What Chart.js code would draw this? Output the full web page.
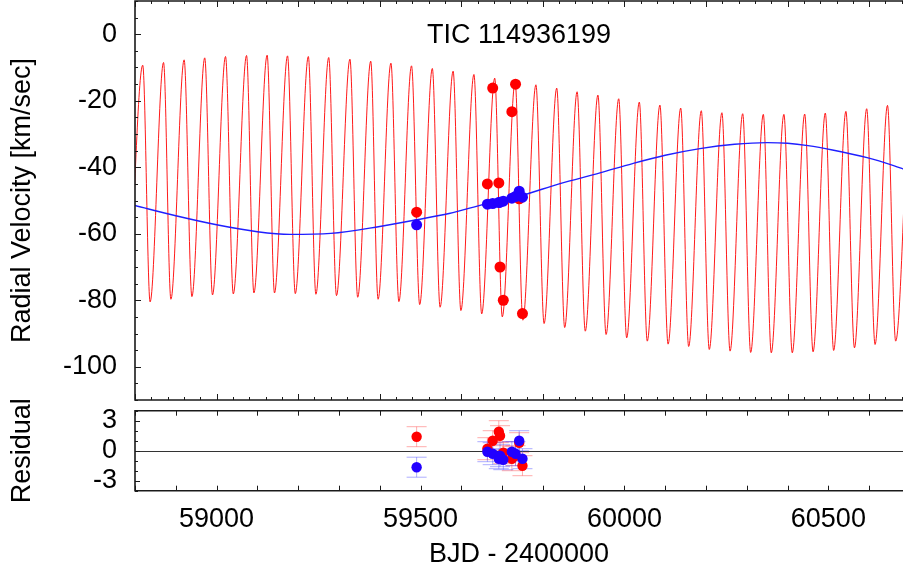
<!DOCTYPE html>
<html><head><meta charset="utf-8">
<script src="https://cdn.jsdelivr.net/npm/chart.js@4.4.1/dist/chart.umd.min.js"></script>
<style>
html,body{margin:0;padding:0;background:#fff;overflow:hidden;width:903px;height:573px}
canvas{position:absolute;left:0}
#top{top:0}
#bot{top:380px}
</style></head><body>
<canvas id="top" width="903" height="405"></canvas>
<canvas id="bot" width="903" height="193"></canvas>
<script>
// ---- data ----
const chartTitle = 'TIC 114936199';
// red (inner) model curve: maxima and minima
const peakDays = [58819, 58870, 58920.5, 58971, 59022, 59073.5, 59124, 59174, 59225, 59275, 59327, 59378, 59427.5, 59478, 59529, 59580, 59631, 59682, 59732, 59783, 59834, 59884, 59935, 59986, 60036.5, 60087, 60138, 60188.5, 60239, 60290, 60340.5, 60391, 60442, 60492.5, 60543, 60594, 60645, 60696];
const peakRV = [-9.3, -8.5, -7.7, -7.1, -6.7, -6.4, -6.3, -6.5, -6.7, -7.0, -7.5, -8.1, -8.7, -9.5, -10.3, -11.1, -12.1, -13.2, -14.3, -15.2, -16.2, -17.3, -18.3, -19.4, -20.4, -21.3, -22.2, -23.0, -23.6, -23.9, -24.1, -24.1, -24.0, -23.7, -23.2, -22.4, -21.4, -20.3];
const troughDays = [58786, 58837, 58888, 58939.5, 58990, 59041, 59091.5, 59142, 59193, 59243.5, 59294, 59346, 59396, 59447, 59498, 59548, 59599, 59650, 59700.5, 59751, 59803, 59853.5, 59904, 59955, 60005.5, 60056, 60107, 60157.5, 60208, 60259, 60309.5, 60360, 60411.5, 60462.5, 60513, 60564, 60614.5, 60665];
const troughRV = [-81, -80.5, -79.7, -78.9, -78.4, -78.1, -77.8, -77.8, -78.0, -78.2, -78.6, -79.1, -79.7, -80.4, -81.3, -82.1, -83.1, -84.1, -85.0, -86.0, -87.0, -88.2, -89.3, -90.3, -91.3, -92.3, -93.2, -93.9, -94.8, -95.3, -95.7, -95.8, -95.8, -95.5, -95.1, -94.3, -93.3, -92.3];
// blue (outer) model curve
const blueModelDays = [58800, 58900, 59000, 59100, 59180, 59280, 59400, 59490, 59570, 59660, 59745, 59840, 59940, 60020, 60100, 60185, 60270, 60350, 60400, 60450, 60510, 60595, 60660, 60690];
const blueModelRV = [-51.5, -54.6, -57.3, -59.4, -60.2, -59.9, -57.8, -55.8, -53.9, -51.0, -48.6, -45.0, -41.7, -38.9, -36.4, -34.4, -33.1, -32.6, -32.8, -33.5, -34.8, -37.1, -39.5, -40.8];
// observations
const obsDays = [59490.5, 59664, 59677, 59692, 59695, 59703, 59724, 59733, 59742, 59750];
const redRV = [-53.5, -45.0, -16.2, -44.7, -70.0, -80.0, -23.3, -15.0, -49.5, -84.0];
const blueRV = [-57.3, -51.1, -50.9, -50.6, -50.5, -50.2, -49.3, -48.8, -47.2, -49.0];
const redResid = [1.4, 0.2, 1.0, 1.9, 1.5, -0.2, -0.8, -0.5, 0.8, -1.5];
const blueResid = [-1.65, -0.1, -0.3, -0.8, -0.5, -0.9, -0.1, -0.3, 1.0, -0.8];
const redErr = [1.0, 1.1, 1.0, 1.1, 1.0, 1.1, 1.2, 1.0, 1.0, 1.0];
const blueErr = [1.0, 1.0, 1.1, 1.0, 1.1, 1.0, 1.0, 1.2, 1.0, 1.0];
// axes
const rvTicks = [-100, -80, -60, -40, -20, 0];
const residTicks = [-3, 0, 3];
const bjdTicks = [59000, 59500, 60000, 60500];
const xRange = [58800, 60683];
const rvRange = [-110, 10];
const residRange = [-4, 4];

// ---- styling ----
const FONT = '"Liberation Sans", Arial, Helvetica, sans-serif';
const FS = 27;
const RED = '#ff0000';
const BLUE = '#2200ff';
const FRAME = '#1a1a1a';

function framePlugin(o) {
  return {
    id: 'frame' + o.name,
    afterDraw(chart) {
      const {ctx, chartArea: a, scales: {x, y}} = chart;
      ctx.save();
      ctx.strokeStyle = FRAME;
      ctx.lineWidth = 1;
      ctx.beginPath();
      const isMult = (v, s) => Math.abs(v / s - Math.round(v / s)) < 1e-6;
      for (let v = Math.ceil(x.min / o.xMinor) * o.xMinor; v <= x.max; v += o.xMinor) {
        const px = Math.round(x.getPixelForValue(v)) + 0.5;
        const L = isMult(v, o.xMajor) ? o.majLen : o.minLen;
        ctx.moveTo(px, a.top); ctx.lineTo(px, a.top + L);
        ctx.moveTo(px, a.bottom); ctx.lineTo(px, a.bottom - L);
      }
      for (let v = Math.ceil(y.min / o.yMinor) * o.yMinor; v <= y.max; v += o.yMinor) {
        const py = Math.round(y.getPixelForValue(v)) + 0.5;
        const L = isMult(v, o.yMajor) ? o.majLen : o.minLen;
        ctx.moveTo(a.left, py); ctx.lineTo(a.left + L, py);
      }
      ctx.stroke();
      ctx.lineWidth = 1.6;
      ctx.beginPath();
      ctx.moveTo(a.right + 2, a.top); ctx.lineTo(a.left, a.top);
      ctx.lineTo(a.left, a.bottom); ctx.lineTo(a.right + 2, a.bottom);
      ctx.stroke();
      if (o.yTitle) {
        ctx.translate(23, (a.top + a.bottom) / 2);
        ctx.rotate(-Math.PI / 2);
        ctx.font = FS + 'px ' + FONT;
        ctx.fillStyle = '#000';
        ctx.textAlign = 'center';
        ctx.textBaseline = 'middle';
        ctx.fillText(o.yTitle, 0, 0);
      }
      ctx.restore();
    }
  };
}

const titlePlugin = {
  id: 'tictitle',
  afterDraw(chart) {
    const {ctx, chartArea: a} = chart;
    ctx.save();
    ctx.font = FS + 'px ' + FONT;
    ctx.fillStyle = '#000';
    ctx.textAlign = 'center';
    ctx.textBaseline = 'alphabetic';
    ctx.fillText(chartTitle, (a.left + a.right) / 2, 43);
    ctx.restore();
  }
};

const zeroErrPlugin = {
  id: 'zeroerr',
  beforeDatasetsDraw(chart) {
    const {ctx, chartArea: a, scales: {x, y}} = chart;
    ctx.save();
    ctx.strokeStyle = '#333';
    ctx.lineWidth = 1.2;
    const y0 = Math.round(y.getPixelForValue(0)) + 0.5;
    ctx.beginPath(); ctx.moveTo(a.left, y0); ctx.lineTo(a.right, y0); ctx.stroke();
    const sets = [[redResid, redErr, 'rgba(255,70,70,0.45)'], [blueResid, blueErr, 'rgba(70,70,255,0.45)']];
    ctx.lineWidth = 1;
    sets.forEach(([vals, errs, col]) => {
      ctx.strokeStyle = col;
      ctx.beginPath();
      obsDays.forEach((d, i) => {
        const px = x.getPixelForValue(d);
        const yt = y.getPixelForValue(vals[i] + errs[i]);
        const yb = y.getPixelForValue(vals[i] - errs[i]);
        ctx.moveTo(px, yt); ctx.lineTo(px, yb);
        ctx.moveTo(px - 10, yt); ctx.lineTo(px + 10, yt);
        ctx.moveTo(px - 10, yb); ctx.lineTo(px + 10, yb);
      });
      ctx.stroke();
    });
    ctx.restore();
  }
};

const pts = (xs, ys) => xs.map((d, i) => ({x: d, y: ys[i]}));
const redModel = pts(peakDays, peakRV).concat(pts(troughDays, troughRV)).sort((p, q) => p.x - q.x);
const blueModel = pts(blueModelDays, blueModelRV);
const font = {family: FONT, size: FS};

const yAxisBase = (range, ticks, title) => ({
  type: 'linear', min: range[0], max: range[1],
  afterBuildTicks: s => { s.ticks = ticks.map(v => ({value: v})); },
  afterFit: s => { s.width = 135; s.paddingTop = 0; s.paddingBottom = 0; },
  grid: {display: false, drawTicks: false}, border: {display: false},
  ticks: {font, color: '#000', padding: 18, callback: v => String(v)},
  title: {display: false, text: title}
});

new Chart(document.getElementById('top'), {
  type: 'scatter',
  data: {datasets: [
    {data: pts(obsDays, blueRV), backgroundColor: BLUE, borderWidth: 0, pointRadius: 5.5, order: 0},
    {data: pts(obsDays, redRV), backgroundColor: RED, borderWidth: 0, pointRadius: 5.5, order: 1},
    {type: 'line', data: blueModel, borderColor: '#1f1fff', borderWidth: 1.4, pointRadius: 0, cubicInterpolationMode: 'monotone', fill: false, order: 2},
    {type: 'line', data: redModel, borderColor: 'rgba(255,0,0,0.9)', borderWidth: 1, pointRadius: 0, cubicInterpolationMode: 'monotone', fill: false, order: 3}
  ]},
  options: {
    responsive: false, animation: false, devicePixelRatio: 1, events: [],
    layout: {autoPadding: false, padding: {top: 1, bottom: 5, left: 0, right: 0}},
    plugins: {legend: {display: false}, tooltip: {enabled: false}},
    scales: {
      x: {type: 'linear', display: false, min: xRange[0], max: xRange[1]},
      y: yAxisBase(rvRange, rvTicks, 'Radial Velocity [km/sec]')
    }
  },
  plugins: [framePlugin({name: 't', xMinor: 40, xMajor: 200, yMinor: 5, yMajor: 20, majLen: 6, minLen: 3, yTitle: 'Radial Velocity [km/sec]'}), titlePlugin]
});

new Chart(document.getElementById('bot'), {
  type: 'scatter',
  data: {datasets: [
    {data: pts(obsDays, blueResid), backgroundColor: BLUE, borderWidth: 0, pointRadius: 5.2, order: 0},
    {data: pts(obsDays, redResid), backgroundColor: RED, borderWidth: 0, pointRadius: 5.2, order: 1}
  ]},
  options: {
    responsive: false, animation: false, devicePixelRatio: 1, events: [],
    layout: {autoPadding: false, padding: {top: 30.7, bottom: 0, left: 0, right: 0}},
    plugins: {legend: {display: false}, tooltip: {enabled: false}},
    scales: {
      x: {
        type: 'linear', min: xRange[0], max: xRange[1],
        afterBuildTicks: s => { s.ticks = bjdTicks.map(v => ({value: v})); },
        afterFit: s => { s.height = 82.3; s.paddingLeft = 0; s.paddingRight = 0; },
        grid: {display: false, drawTicks: false}, border: {display: false},
        ticks: {font, color: '#000', padding: 12.5, maxRotation: 0, callback: v => String(v)},
        title: {display: true, text: 'BJD - 2400000', font, color: '#000', padding: {top: 0, bottom: 2.5}}
      },
      y: yAxisBase(residRange, residTicks, 'Residual')
    }
  },
  plugins: [zeroErrPlugin, framePlugin({name: 'b', xMinor: 100, xMajor: 100, yMinor: 1, yMajor: 3, majLen: 5, minLen: 3, yTitle: 'Residual'})]
});
</script>
</body></html>
